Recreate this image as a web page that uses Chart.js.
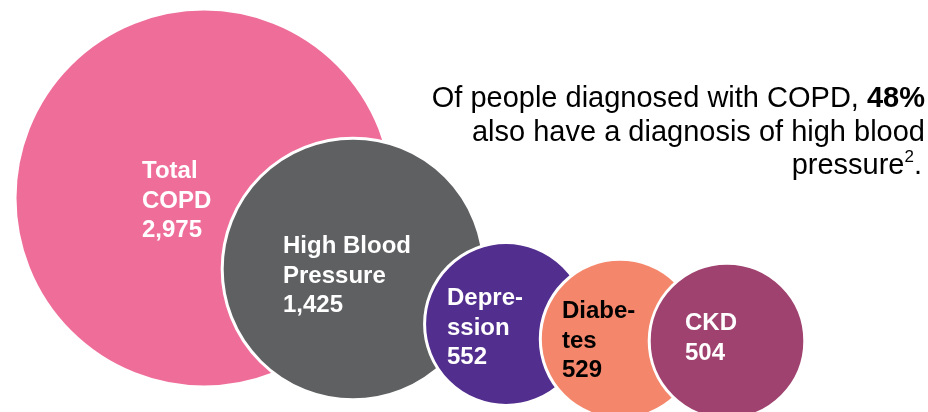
<!doctype html>
<html>

<head>
	<title>COPD comorbidities</title>
	<script src="https://cdn.jsdelivr.net/npm/chart.js@4/dist/chart.umd.min.js"></script>
	<style>
		body { margin: 0; background: #fff; }
		#canvas-holder { width: 928px; height: 412px; }
	</style>
</head>

<body>
	<div id="canvas-holder">
		<canvas id="chart-area"></canvas>
	</div>

	<script>
		// patient counts per condition
		const conditions = ['Total COPD', 'High Blood Pressure', 'Depression', 'Diabetes', 'CKD'];
		const counts = [2975, 1425, 552, 529, 504];
		const labelLines = [
			['Total', 'COPD'],
			['High Blood', 'Pressure'],
			['Depre-', 'ssion'],
			['Diabe-', 'tes'],
			['CKD']
		];

		// bubble centres on a 928 x 412 grid
		const centreX = [204, 353, 506, 620, 727];
		const centreY = [198, 269, 324, 339, 341];

		const fills = ['#ef6e99', '#5f6062', '#522e8f', '#f4876b', '#a0426f'];
		const textColours = ['#fff', '#fff', '#fff', '#000', '#fff'];
		const labelOffsets = [[-62, -20], [-70, -16], [-59, -19], [-58, -21], [-42, -11]];

		const maxRadius = 189;
		const radiusFor = v => maxRadius * Math.sqrt(v / counts[0]);

		const fmt = n => n.toLocaleString('en-US');

		const bubbleLabels = {
			id: 'bubbleLabels',
			afterDatasetsDraw(chart) {
				const ctx = chart.ctx;
				const meta = chart.getDatasetMeta(0);
				ctx.save();
				ctx.font = 'bold 24px "Liberation Sans", Arial, sans-serif';
				ctx.textAlign = 'left';
				ctx.textBaseline = 'alphabetic';
				meta.data.forEach((pt, i) => {
					const lines = labelLines[i].concat(fmt(counts[i]));
					const x = pt.x + labelOffsets[i][0];
					let y = pt.y + labelOffsets[i][1];
					ctx.fillStyle = textColours[i];
					lines.forEach(line => {
						ctx.fillText(line, x, y);
						y += 29.5;
					});
				});
				ctx.restore();
			}
		};

		// callout text at the top right
		const callout = {
			id: 'callout',
			afterDraw(chart) {
				const ctx = chart.ctx;
				const right = 925;
				const regular = '29px "Liberation Sans", Arial, sans-serif';
				const bold = 'bold 29px "Liberation Sans", Arial, sans-serif';
				const small = '17px "Liberation Sans", Arial, sans-serif';
				ctx.save();
				ctx.fillStyle = '#000';
				ctx.textBaseline = 'alphabetic';
				ctx.textAlign = 'left';

				// line 1: regular run + bold percentage
				const part1 = 'Of people diagnosed with COPD, ';
				const part2 = '48%';
				ctx.font = bold;
				const w2 = ctx.measureText(part2).width;
				ctx.font = regular;
				const w1 = ctx.measureText(part1).width;
				ctx.fillText(part1, right - w1 - w2, 107);
				ctx.font = bold;
				ctx.fillText(part2, right - w2, 107);

				// line 2
				ctx.font = regular;
				ctx.textAlign = 'right';
				ctx.fillText('also have a diagnosis of high blood', right, 141);

				// line 3 with superscript reference
				ctx.textAlign = 'left';
				const word = 'pressure';
				const dot = '.';
				const sup = '2';
				const wWord = ctx.measureText(word).width;
				const wDot = ctx.measureText(dot).width;
				ctx.font = small;
				const wSup = ctx.measureText(sup).width;
				const r3 = 922;
				ctx.font = regular;
				ctx.fillText(word, r3 - wDot - wSup - wWord, 174);
				ctx.font = small;
				ctx.fillText(sup, r3 - wDot - wSup, 162);
				ctx.font = regular;
				ctx.fillText(dot, r3 - wDot, 174);
				ctx.restore();
			}
		};

		const ctx2d = document.getElementById('chart-area').getContext('2d');
		window.bubbleChart = new Chart(ctx2d, {
			type: 'bubble',
			data: {
				labels: conditions,
				datasets: [{
					label: 'Diagnoses',
					data: counts.map((v, i) => ({ x: centreX[i], y: centreY[i], r: radiusFor(v), v: v })),
					backgroundColor: fills,
					borderColor: '#fff',
					borderWidth: 3,
					clip: false
				}]
			},
			options: {
				responsive: true,
				maintainAspectRatio: false,
				animation: false,
				events: [],
				layout: { padding: 0, autoPadding: false },
				scales: {
					x: { type: 'linear', min: 0, max: 928, display: false },
					y: { type: 'linear', min: 0, max: 412, reverse: true, display: false }
				},
				plugins: {
					legend: { display: false },
					tooltip: { enabled: false }
				}
			},
			plugins: [bubbleLabels, callout]
		});
	</script>
</body>
</html>
